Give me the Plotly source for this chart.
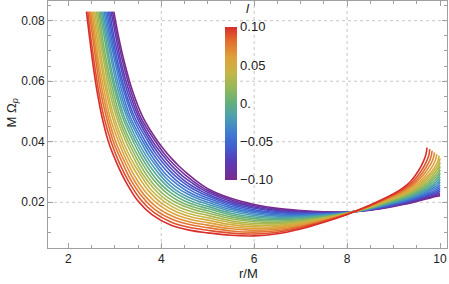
import plotly.graph_objects as go
from plotly.colors import sample_colorscale

# parameter l of each curve (purple -> red)
l_values = [-0.10, -0.09, -0.08, -0.07, -0.06, -0.05, -0.04, -0.03, -0.02, -0.01, 0.00,
            0.01, 0.02, 0.03, 0.04, 0.05, 0.06, 0.07, 0.08, 0.09, 0.10]

# upper (steep) part: r of each curve at these M*Omega_p levels
U_y = [0.0830, 0.0750, 0.0660, 0.0570, 0.0480, 0.0400]
U_r = [
    [2.98, 3.078, 3.211, 3.377, 3.609, 3.93],
    [2.95, 3.05, 3.18, 3.34, 3.56, 3.88],
    [2.92, 3.02, 3.14, 3.30, 3.52, 3.82],
    [2.89, 2.98, 3.11, 3.26, 3.48, 3.77],
    [2.86, 2.95, 3.07, 3.22, 3.43, 3.72],
    [2.83, 2.92, 3.04, 3.19, 3.39, 3.66],
    [2.80, 2.89, 3.01, 3.15, 3.34, 3.61],
    [2.77, 2.86, 2.97, 3.11, 3.30, 3.56],
    [2.74, 2.83, 2.94, 3.07, 3.26, 3.50],
    [2.71, 2.80, 2.90, 3.03, 3.21, 3.45],
    [2.68, 2.77, 2.87, 3.00, 3.17, 3.40],
    [2.66, 2.73, 2.83, 2.96, 3.12, 3.34],
    [2.63, 2.70, 2.80, 2.92, 3.08, 3.29],
    [2.60, 2.67, 2.77, 2.88, 3.04, 3.24],
    [2.57, 2.64, 2.73, 2.84, 2.99, 3.18],
    [2.54, 2.61, 2.70, 2.81, 2.95, 3.13],
    [2.51, 2.58, 2.66, 2.77, 2.90, 3.08],
    [2.48, 2.55, 2.63, 2.73, 2.86, 3.02],
    [2.45, 2.52, 2.60, 2.69, 2.82, 2.97],
    [2.42, 2.48, 2.56, 2.65, 2.77, 2.92],
    [2.39, 2.453, 2.527, 2.615, 2.728, 2.863],
]

# knee part
M_r = [
    [4.07, 4.22, 4.38, 4.55, 4.72, 4.86],
    [4.02, 4.17, 4.34, 4.52, 4.70, 4.85],
    [3.97, 4.13, 4.30, 4.48, 4.68, 4.84],
    [3.92, 4.08, 4.26, 4.45, 4.65, 4.83],
    [3.87, 4.04, 4.22, 4.42, 4.63, 4.82],
    [3.82, 3.99, 4.18, 4.38, 4.61, 4.80],
    [3.77, 3.94, 4.13, 4.35, 4.58, 4.79],
    [3.72, 3.90, 4.09, 4.31, 4.56, 4.78],
    [3.67, 3.85, 4.05, 4.27, 4.53, 4.77],
    [3.62, 3.80, 4.01, 4.24, 4.51, 4.75],
    [3.57, 3.75, 3.96, 4.20, 4.48, 4.74],
    [3.52, 3.70, 3.92, 4.16, 4.45, 4.73],
    [3.47, 3.65, 3.87, 4.12, 4.43, 4.72],
    [3.42, 3.60, 3.83, 4.08, 4.40, 4.70],
    [3.36, 3.56, 3.78, 4.05, 4.37, 4.69],
    [3.31, 3.51, 3.74, 4.01, 4.35, 4.67],
    [3.26, 3.45, 3.69, 3.97, 4.32, 4.66],
    [3.21, 3.40, 3.64, 3.92, 4.29, 4.64],
    [3.16, 3.35, 3.60, 3.88, 4.26, 4.63],
    [3.10, 3.30, 3.55, 3.84, 4.23, 4.62],
    [3.05, 3.25, 3.50, 3.80, 4.20, 4.60],
]
M_y = [
    [0.03720, 0.03450, 0.03200, 0.02960, 0.02750, 0.02590],
    [0.03698, 0.03412, 0.03148, 0.02900, 0.02686, 0.02527],
    [0.03677, 0.03374, 0.03094, 0.02839, 0.02622, 0.02463],
    [0.03655, 0.03336, 0.03041, 0.02777, 0.02556, 0.02398],
    [0.03633, 0.03297, 0.02987, 0.02714, 0.02488, 0.02331],
    [0.03611, 0.03258, 0.02932, 0.02651, 0.02420, 0.02263],
    [0.03589, 0.03219, 0.02876, 0.02586, 0.02350, 0.02194],
    [0.03567, 0.03179, 0.02820, 0.02521, 0.02280, 0.02123],
    [0.03544, 0.03140, 0.02764, 0.02455, 0.02208, 0.02051],
    [0.03522, 0.03100, 0.02707, 0.02388, 0.02134, 0.01978],
    [0.03500, 0.03059, 0.02649, 0.02320, 0.02060, 0.01903],
    [0.03477, 0.03019, 0.02591, 0.02251, 0.01984, 0.01827],
    [0.03454, 0.02978, 0.02532, 0.02181, 0.01908, 0.01749],
    [0.03432, 0.02936, 0.02472, 0.02110, 0.01830, 0.01670],
    [0.03409, 0.02895, 0.02412, 0.02038, 0.01750, 0.01590],
    [0.03386, 0.02853, 0.02352, 0.01966, 0.01670, 0.01508],
    [0.03363, 0.02811, 0.02291, 0.01892, 0.01588, 0.01425],
    [0.03340, 0.02769, 0.02229, 0.01818, 0.01506, 0.01341],
    [0.03317, 0.02726, 0.02166, 0.01743, 0.01422, 0.01255],
    [0.03293, 0.02683, 0.02104, 0.01667, 0.01336, 0.01168],
    [0.03270, 0.02640, 0.02040, 0.01590, 0.01250, 0.01080],
]

# lower part at common r
L_r = [5.0, 5.5, 6.0, 6.5, 7.0, 7.5, 8.0, 8.5, 9.0]
L_y = [
    [0.02450, 0.02130, 0.01930, 0.01800, 0.01730, 0.01690, 0.01680, 0.01740, 0.01860],
    [0.02391, 0.02081, 0.01888, 0.01766, 0.01705, 0.01676, 0.01677, 0.01747, 0.01876],
    [0.02330, 0.02030, 0.01845, 0.01731, 0.01680, 0.01661, 0.01673, 0.01754, 0.01893],
    [0.02268, 0.01978, 0.01801, 0.01695, 0.01654, 0.01646, 0.01670, 0.01761, 0.01910],
    [0.02205, 0.01925, 0.01755, 0.01659, 0.01628, 0.01631, 0.01667, 0.01768, 0.01927],
    [0.02140, 0.01871, 0.01709, 0.01622, 0.01600, 0.01616, 0.01663, 0.01775, 0.01945],
    [0.02073, 0.01815, 0.01662, 0.01583, 0.01573, 0.01600, 0.01659, 0.01783, 0.01964],
    [0.02005, 0.01759, 0.01613, 0.01544, 0.01544, 0.01583, 0.01656, 0.01791, 0.01983],
    [0.01936, 0.01701, 0.01564, 0.01504, 0.01515, 0.01567, 0.01652, 0.01799, 0.02003],
    [0.01865, 0.01641, 0.01513, 0.01464, 0.01486, 0.01550, 0.01648, 0.01807, 0.02023],
    [0.01793, 0.01581, 0.01462, 0.01422, 0.01455, 0.01532, 0.01644, 0.01816, 0.02044],
    [0.01719, 0.01519, 0.01409, 0.01380, 0.01425, 0.01515, 0.01640, 0.01824, 0.02065],
    [0.01644, 0.01457, 0.01356, 0.01336, 0.01393, 0.01497, 0.01636, 0.01833, 0.02087],
    [0.01567, 0.01393, 0.01301, 0.01292, 0.01361, 0.01478, 0.01632, 0.01842, 0.02109],
    [0.01489, 0.01327, 0.01246, 0.01247, 0.01329, 0.01460, 0.01627, 0.01851, 0.02132],
    [0.01410, 0.01261, 0.01189, 0.01201, 0.01295, 0.01441, 0.01623, 0.01860, 0.02155],
    [0.01329, 0.01193, 0.01131, 0.01155, 0.01262, 0.01421, 0.01619, 0.01870, 0.02179],
    [0.01246, 0.01124, 0.01073, 0.01107, 0.01227, 0.01401, 0.01614, 0.01880, 0.02204],
    [0.01162, 0.01054, 0.01013, 0.01059, 0.01192, 0.01381, 0.01609, 0.01890, 0.02229],
    [0.01077, 0.00983, 0.00952, 0.01010, 0.01156, 0.01361, 0.01605, 0.01900, 0.02254],
    [0.00990, 0.00910, 0.00890, 0.00960, 0.01120, 0.01340, 0.01600, 0.01910, 0.02280],
]

# right-hand tails
T_r = [[9.25, 9.5, 9.75, 9.9, 9.97, 10.0]] * 15 + [
    [9.245, 9.49, 9.735, 9.882, 9.951, 9.98],
    [9.233, 9.465, 9.698, 9.837, 9.902, 9.93],
    [9.22, 9.44, 9.66, 9.792, 9.854, 9.88],
    [9.208, 9.415, 9.623, 9.747, 9.805, 9.83],
    [9.195, 9.39, 9.585, 9.702, 9.757, 9.78],
    [9.18, 9.36, 9.54, 9.648, 9.698, 9.72],
]
T_y = [
    [0.01940, 0.02030, 0.02130, 0.02190, 0.02210, 0.02220],
    [0.01958, 0.02051, 0.02157, 0.02222, 0.02246, 0.02261],
    [0.01977, 0.02074, 0.02187, 0.02259, 0.02289, 0.02310],
    [0.01997, 0.02098, 0.02221, 0.02301, 0.02338, 0.02366],
    [0.02018, 0.02125, 0.02259, 0.02350, 0.02395, 0.02432],
    [0.02040, 0.02154, 0.02299, 0.02402, 0.02456, 0.02502],
    [0.02064, 0.02184, 0.02344, 0.02460, 0.02524, 0.02581],
    [0.02088, 0.02216, 0.02390, 0.02520, 0.02595, 0.02663],
    [0.02113, 0.02250, 0.02441, 0.02588, 0.02675, 0.02756],
    [0.02139, 0.02286, 0.02495, 0.02660, 0.02761, 0.02855],
    [0.02167, 0.02323, 0.02552, 0.02736, 0.02851, 0.02960],
    [0.02195, 0.02363, 0.02612, 0.02817, 0.02948, 0.03073],
    [0.02224, 0.02404, 0.02676, 0.02902, 0.03050, 0.03191],
    [0.02255, 0.02448, 0.02744, 0.02995, 0.03161, 0.03320],
    [0.02286, 0.02492, 0.02814, 0.03089, 0.03274, 0.03452],
    [0.02315, 0.02528, 0.02864, 0.03153, 0.03349, 0.03538],
    [0.02341, 0.02558, 0.02901, 0.03197, 0.03398, 0.03594],
    [0.02368, 0.02588, 0.02939, 0.03242, 0.03448, 0.03650],
    [0.02395, 0.02618, 0.02975, 0.03284, 0.03495, 0.03703],
    [0.02422, 0.02649, 0.03014, 0.03329, 0.03545, 0.03759],
    [0.02450, 0.02680, 0.03050, 0.03370, 0.03590, 0.03810],
]

cbar_vals = [-0.10, -0.05, 0.0, 0.05, 0.10]
cbar_text = ['\u22120.10', '\u22120.05', '0.', '0.05', '0.10']

rainbow = [[0.0, '#7a2a8e'], [0.12, '#5a3bb5'], [0.22, '#3f5fd0'], [0.32, '#4080cf'], [0.42, '#4ea2ad'],
           [0.5, '#62af7e'], [0.6, '#93b85a'], [0.7, '#c5b646'], [0.8, '#dea23b'], [0.9, '#e2722f'],
           [1.0, '#d92d2a']]
FONT = 'Liberation Sans'

fig = go.Figure()
for k, lv in enumerate(l_values):
    xs = U_r[k] + M_r[k] + L_r + T_r[k]
    ys = U_y + M_y[k] + L_y[k] + T_y[k]
    col = sample_colorscale(rainbow, [(lv + 0.1) / 0.2])[0]
    fig.add_trace(go.Scatter(x=xs, y=ys, mode='lines', name=f'l={lv}',
                             line=dict(color=col, width=1.6, shape='spline'),
                             showlegend=False, hoverinfo='skip'))

fig.add_trace(go.Scatter(x=[None], y=[None], mode='markers', showlegend=False, hoverinfo='skip',
    marker=dict(color=[0], colorscale=rainbow, cmin=-0.1, cmax=0.1, showscale=True,
        colorbar=dict(x=(225 - 48) / 399, xanchor='left', y=(248 - 103.4) / 247, yanchor='middle',
                      lenmode='pixels', len=153, thickness=11.5, ypad=0, xpad=0, outlinewidth=0,
                      tickvals=cbar_vals, ticktext=cbar_text, ticks='',
                      tickfont=dict(size=13, color='#222', family=FONT)))))

shapes = []
for xv in [4, 6, 8]:
    shapes.append(dict(type='line', xref='x', yref='paper', x0=xv, x1=xv, y0=0, y1=1,
                       line=dict(color='#c8c8c8', width=1, dash='dot'), layer='below'))
for yv in [0.02, 0.04, 0.06, 0.08]:
    shapes.append(dict(type='line', xref='paper', yref='y', x0=0, x1=1, y0=yv, y1=yv,
                       line=dict(color='#c8c8c8', width=1, dash='dot'), layer='below'))

axis_common = dict(showline=True, linecolor='#a0a0a0', linewidth=1, mirror='allticks', ticks='inside',
                   ticklen=5, tickcolor='#a0a0a0', showgrid=False, zeroline=False,
                   tickfont=dict(size=12, color='#222', family=FONT))
fig.update_layout(
    width=449, height=284, margin=dict(l=48, r=2, t=1, b=36),
    paper_bgcolor='white', plot_bgcolor='white', shapes=shapes,
    xaxis=dict(range=[1.563, 10.15], tick0=0, dtick=2,
               minor=dict(dtick=0.5, ticklen=3, ticks='inside', tickcolor='#a0a0a0'), **axis_common),
    yaxis=dict(range=[0.0049, 0.0865], tick0=0, dtick=0.02, tickformat='.2f',
               minor=dict(dtick=0.005, ticklen=3, ticks='inside', tickcolor='#a0a0a0'), **axis_common),
    annotations=[
        dict(text='r/M', xref='paper', yref='paper', x=(248 - 48) / 399, y=(248 - 273) / 247,
             xanchor='center', yanchor='middle', showarrow=False,
             font=dict(size=13, color='#222', family=FONT)),
        dict(text='M \u03a9<sub><i>p</i></sub>', xref='paper', yref='paper', x=(12.5 - 48) / 399,
             y=(248 - 113) / 247, xanchor='center', yanchor='middle', textangle=-90, showarrow=False,
             font=dict(size=13, color='#222', family=FONT)),
        dict(text='<i>l</i>', xref='paper', yref='paper', x=(248 - 48) / 399, y=(248 - 9) / 247,
             xanchor='center', yanchor='middle', showarrow=False,
             font=dict(size=13, color='#222', family=FONT)),
    ],
)
fig.write_html("out.html", config={'displayModeBar': False},
               post_script="document.body.style.margin='0px';")
